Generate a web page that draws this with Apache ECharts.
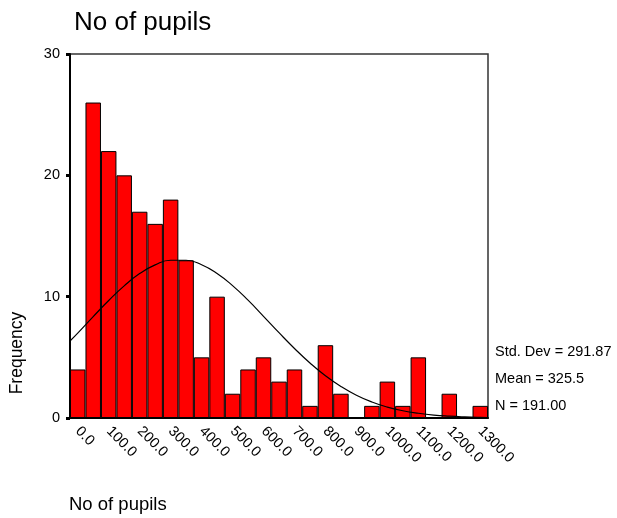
<!DOCTYPE html>
<html lang="en">
<head>
    <meta charset="UTF-8">
    <title>No of pupils</title>
    <script src="https://cdn.jsdelivr.net/npm/echarts@6/dist/echarts.min.js"></script>
</head>
<body style="margin:0">
<div id="main" style="width: 617px;height:518px;"></div>
<script>
    // bin centres (width 50) and counts
    var binCenters = [0, 50, 100, 150, 200, 250, 300, 350, 400, 450, 500, 550, 600, 650,
        700, 750, 800, 850, 900, 950, 1000, 1050, 1100, 1150, 1200, 1250, 1300];
    var counts = [4, 26, 22, 20, 17, 16, 18, 13, 5, 10, 2, 4, 5, 3,
        4, 1, 6, 2, 0, 1, 3, 1, 5, 0, 2, 0, 1];
    // normal curve
    var curveX = [-25, 0, 50, 100, 150, 200, 250, 300, 350, 400, 450, 500, 550, 600, 650,
        700, 750, 800, 850, 900, 950, 1000, 1050, 1100, 1150, 1200, 1250, 1300, 1325];
    var curveY = [6.35, 7.0, 8.36, 9.68, 10.89, 11.9, 12.62, 13.0, 13.0, 12.63, 11.91, 10.91, 9.71, 8.38, 7.03,
        5.73, 4.53, 3.48, 2.6, 1.88, 1.32, 0.9, 0.6, 0.39, 0.24, 0.15, 0.09, 0.05, 0.04];
    var yTicks = [0, 10, 20, 30];
    var stats = ['Std. Dev = 291.87', 'Mean = 325.5', 'N = 191.00'];

    var font = 'Liberation Sans, Arial, sans-serif';
    var myChart = echarts.init(document.getElementById('main'));

    var curveData = [];
    for (var i = 0; i < curveX.length; i++) {
        curveData.push([curveX[i], curveY[i]]);
    }

    var statTexts = [];
    for (var j = 0; j < stats.length; j++) {
        statTexts.push({
            type: 'text',
            x: 495,
            y: 352 + j * 27,
            style: {text: stats[j], fill: '#000', font: '14.5px ' + font, textVerticalAlign: 'middle'}
        });
    }

    var option = {
        animation: false,
        title: {
            text: 'No of pupils',
            left: 69,
            top: 5,
            textStyle: {fontSize: 26, fontWeight: 'normal', color: '#000', fontFamily: font}
        },
        grid: {
            left: 70, right: 129, top: 54, bottom: 100,
            show: true, borderColor: '#333', borderWidth: 1.5, backgroundColor: '#fff'
        },
        xAxis: [{
            type: 'category',
            data: binCenters.map(function (v) { return v.toFixed(1); }),
            axisLine: {onZero: false, lineStyle: {color: '#000', width: 2}},
            axisTick: {alignWithLabel: true, interval: 1, length: 3, lineStyle: {color: '#222', width: 3}},
            axisLabel: {interval: 1, rotate: -45, margin: 11, color: '#000', fontSize: 14.5, fontFamily: font}
        }, {
            type: 'value',
            min: -25, max: 1325,
            show: false
        }],
        yAxis: {
            type: 'value',
            min: yTicks[0], max: yTicks[yTicks.length - 1], interval: 10,
            axisLine: {show: true, onZero: false, lineStyle: {color: '#000', width: 2}},
            axisTick: {show: true, length: 4, lineStyle: {color: '#000', width: 3}},
            axisLabel: {margin: 10, color: '#000', fontSize: 14.5, fontFamily: font},
            splitLine: {show: false}
        },
        series: [{
            type: 'bar',
            data: counts,
            barCategoryGap: '0%',
            itemStyle: {color: '#ff0000', borderColor: '#000', borderWidth: 1}
        }, {
            type: 'line',
            xAxisIndex: 1,
            data: curveData,
            smooth: true,
            showSymbol: false,
            lineStyle: {color: '#000', width: 1.2}
        }],
        graphic: [{
            type: 'text',
            x: 17, y: 353,
            rotation: Math.PI / 2,
            style: {text: 'Frequency', fill: '#000', font: '17.5px ' + font, textAlign: 'center', textVerticalAlign: 'middle'}
        }, {
            type: 'text',
            x: 69, y: 505,
            style: {text: 'No of pupils', fill: '#000', font: '18.5px ' + font, textVerticalAlign: 'middle'}
        }].concat(statTexts)
    };

    myChart.setOption(option);
</script>
</body>
</html>
